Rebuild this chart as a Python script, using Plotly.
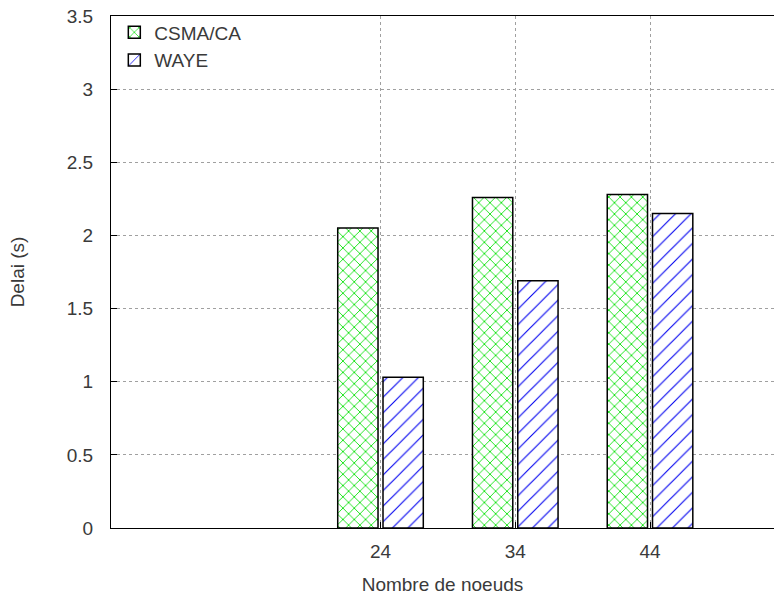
import plotly.graph_objects as go

nodes = ["24", "34", "44"]
csma_ca = [2.05, 2.26, 2.28]
waye = [1.03, 1.69, 2.15]
y_ticks = [0, 0.5, 1, 1.5, 2, 2.5, 3, 3.5]

font_family = "Liberation Sans, Arial, sans-serif"
text_color = "#3a3a3a"
fs = 19

fig = go.Figure()
fig.add_trace(go.Bar(
    name="CSMA/CA", x=nodes, y=csma_ca,
    marker=dict(color="white",
                line=dict(color="black", width=1.5),
                pattern=dict(shape="x", fgcolor="#00e000", bgcolor="white",
                             fgopacity=1, size=8, solidity=0.2,
                             fillmode="replace")),
))
fig.add_trace(go.Bar(
    name="WAYE", x=nodes, y=waye,
    marker=dict(color="white",
                line=dict(color="black", width=1.5),
                pattern=dict(shape="/", fgcolor="#0000f0", bgcolor="white",
                             fgopacity=1, size=11, solidity=0.1,
                             fillmode="replace")),
))

fig.update_layout(
    width=774, height=598,
    margin=dict(l=111, r=0, t=16, b=70),
    paper_bgcolor="white", plot_bgcolor="white",
    barmode="group", bargap=0.328, bargroupgap=0.11,
    font=dict(family=font_family, size=fs, color=text_color),
    showlegend=True,
    legend=dict(x=0.005, y=1.005, xanchor="left", yanchor="top",
                bgcolor="rgba(0,0,0,0)", font=dict(size=fs, color=text_color),
                tracegroupgap=0),
    xaxis=dict(
        type="category", categoryorder="array", categoryarray=nodes,
        range=[-2.0, 2.92],
        showline=True, linecolor="black", linewidth=1, mirror=True,
        ticks="inside", ticklen=6, tickcolor="black",
        showgrid=True, gridcolor="#a0a0a0", griddash="dot", gridwidth=1,
        title=dict(text="Nombre de noeuds", standoff=16,
                   font=dict(size=fs, color=text_color)),
        tickfont=dict(size=fs, color=text_color),
        ticklabelstandoff=6,
        zeroline=False,
    ),
    yaxis=dict(
        range=[0, 3.5], tickvals=y_ticks,
        showline=True, linecolor="black", linewidth=1,
        ticks="inside", ticklen=6, tickcolor="black",
        showgrid=True, gridcolor="#a0a0a0", griddash="dot", gridwidth=1,
        zeroline=False,
        ticklabelstandoff=13,
        title=dict(text="Delai (s)", standoff=37,
                   font=dict(size=fs, color=text_color)),
        tickfont=dict(size=fs, color=text_color),
    ),
)

fig.write_html("out.html",
               config={"displayModeBar": False},
               post_script="document.body.style.margin='0';document.body.style.padding='0';")
